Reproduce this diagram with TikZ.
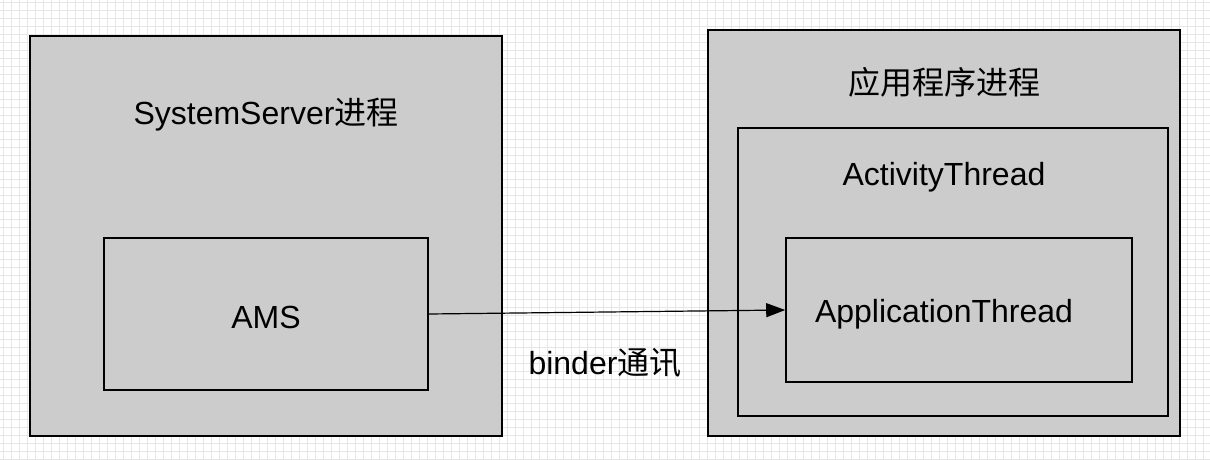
\documentclass[tikz,border=0pt]{standalone}
\usepackage{fontspec}
\setmainfont{Liberation Sans}
\newfontfamily\cjk{Noto Sans CJK SC}
\usetikzlibrary{arrows.meta}
\definecolor{procgray}{HTML}{CCCCCC}
\definecolor{gridgray}{HTML}{E6E6E6}
\begin{document}
\begin{tikzpicture}[x=1pt,y=-1pt,
    proc/.style={draw,line width=1.6pt,fill=procgray,inner sep=0pt},
    lbl/.style={font=\fontsize{32}{38}\selectfont,inner sep=0pt}]
\useasboundingbox (0,0) rectangle (1210,460);
% background grid
\foreach \gx in {3,11,...,1210} \draw[gridgray,line width=1pt] (\gx,0) -- (\gx,460);
\foreach \gy in {3,11,...,460} \draw[gridgray,line width=1pt] (0,\gy) -- (1210,\gy);
% system server side
\node[proc,minimum width=472,minimum height=400] (sys) at (266,236) {};
\node[lbl] (syslbl) at (266,115) {SystemServer{\cjk 进程}};
\node[proc,minimum width=324,minimum height=152] (ams) at (266,314) {};
\node[lbl] (amslbl) at (266,317) {AMS};
% app side
\node[proc,minimum width=472,minimum height=406] (app) at (944,233) {};
\node[lbl] (applbl) at (944,82) {\cjk 应用程序进程};
\node[proc,minimum width=430,minimum height=288] (act) at (953,272) {};
\node[lbl] (actlbl) at (944,177) {ActivityThread};
\node[proc,minimum width=346,minimum height=144] (thr) at (959,310) {};
\node[lbl] (thrlbl) at (944,314) {ApplicationThread};
% binder call
\draw[line width=1.2pt,-{Triangle[length=19pt,width=14pt]}] (ams.east) -- (thr.west);
\node[lbl] (binder) at (605,363) {binder{\cjk 通讯}};
\end{tikzpicture}
\end{document}
